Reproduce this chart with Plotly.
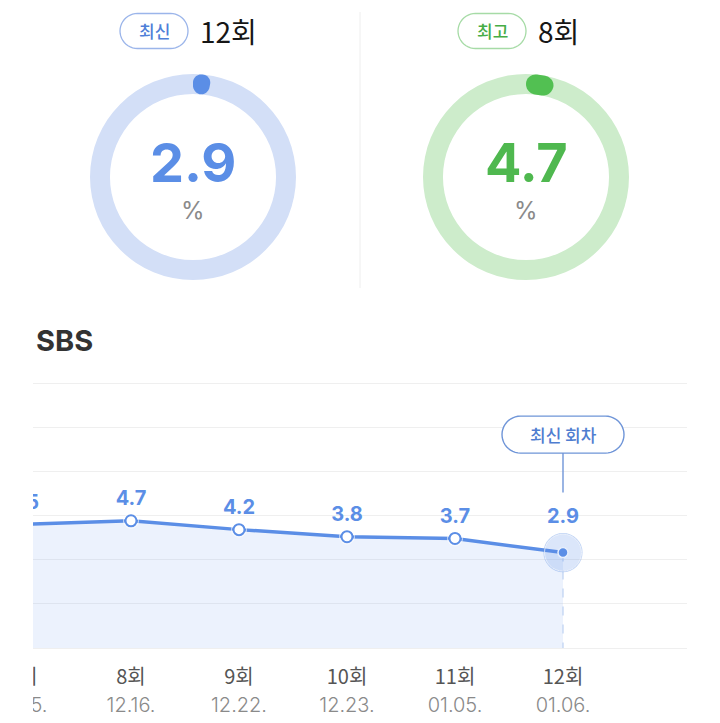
import numpy as np
import plotly.graph_objects as go

# ---------------- data ----------------
episodes = ["7회", "8회", "9회", "10회", "11회", "12회"]
dates = ["12.15.", "12.16.", "12.22.", "12.23.", "01.05.", "01.06."]
ratings = [4.5, 4.7, 4.2, 3.8, 3.7, 2.9]

latest_ep = "12회"
latest_val = 2.9
best_ep = "8회"
best_val = 4.7

W, H = 720, 723
BLUE = "#5b8ee6"
BLUE_RING = "#d3dff7"
GREEN = "#52c052"
GREEN_TXT = "#4fb84f"
GREEN_RING = "#cdeccb"
FONT = "Inter, 'Noto Sans CJK KR', sans-serif"
KFONT = "'Noto Sans CJK KR', Inter, sans-serif"


def px(x):
    return x / W


def py(y):
    return 1 - y / H


def poly_path(xs, ys, paper=True):
    if paper:
        pts = [f"{px(a):.5f},{py(b):.5f}" for a, b in zip(xs, ys)]
    else:
        pts = [f"{a:.2f},{b:.2f}" for a, b in zip(xs, ys)]
    return "M " + " L ".join(pts) + " Z"


def rounded_rect(w, h, r, n=12):
    """points of a rounded rectangle centred at 0 (local coords)"""
    r = min(r, w / 2, h / 2)
    xs, ys = [], []
    corners = [(w / 2 - r, h / 2 - r, 0), (-w / 2 + r, h / 2 - r, 90),
               (-w / 2 + r, -h / 2 + r, 180), (w / 2 - r, -h / 2 + r, 270)]
    for cx, cy, a0 in corners:
        for a in np.linspace(a0, a0 + 90, n):
            xs.append(cx + r * np.cos(np.radians(a)))
            ys.append(cy + r * np.sin(np.radians(a)))
    return np.array(xs), np.array(ys)


fig = go.Figure()
shapes = []
annotations = []

# ---------------- gauges ----------------
gauges = [
    dict(cx=193, cy=177, val=latest_val, ring=BLUE_RING, dot=BLUE, txt=BLUE,
         tag="최신", ep=latest_ep, pill_cx=154, tag_col="#4f7fd8", pill_border="#9bb5ea"),
    dict(cx=526, cy=177, val=best_val, ring=GREEN_RING, dot=GREEN, txt=GREEN_TXT,
         tag="최고", ep=best_ep, pill_cx=492, tag_col="#46ad46", pill_border="#a6dba6"),
]
R_OUT, R_IN = 103, 83
for g in gauges:
    fig.add_trace(go.Pie(
        values=[1], hole=R_IN / R_OUT, sort=False, textinfo="none", hoverinfo="skip",
        marker=dict(colors=[g["ring"]], line=dict(width=0)), showlegend=False,
        domain=dict(x=[px(g["cx"] - R_OUT), px(g["cx"] + R_OUT)],
                    y=[py(g["cy"] + R_OUT), py(g["cy"] - R_OUT)]),
    ))
    # progress blob (arc of value %)
    rmid = (R_OUT + R_IN) / 2
    thick = R_OUT - R_IN
    L = g["val"] / 100 * 2 * np.pi * rmid
    ls, lt = rounded_rect(L, thick, thick / 2)
    ls = ls + L / 2
    phi = ls / rmid
    rr = rmid + lt
    xs = g["cx"] + rr * np.sin(phi)
    ys = g["cy"] - rr * np.cos(phi)
    shapes.append(dict(type="path", xref="paper", yref="paper", path=poly_path(xs, ys),
                       fillcolor=g["dot"], line=dict(width=0), layer="above"))
    # centre value
    annotations.append(dict(x=px(g["cx"]), y=py(162), xref="paper", yref="paper",
                            text=f"{g['val']}", showarrow=False, xanchor="center", yanchor="middle",
                            font=dict(family=FONT, size=54, color=g["txt"], weight=700)))
    annotations.append(dict(x=px(g["cx"]), y=py(210), xref="paper", yref="paper",
                            text="%", showarrow=False, xanchor="center", yanchor="middle",
                            font=dict(family=FONT, size=24, color="#8a8a8a")))
    # header pill
    pxs, pys = rounded_rect(68, 35, 17.5)
    shapes.append(dict(type="path", xref="paper", yref="paper",
                       path=poly_path(g["pill_cx"] + pxs, 31 + pys),
                       fillcolor="white", line=dict(width=1.3, color=g["pill_border"])))
    annotations.append(dict(x=px(g["pill_cx"]), y=py(31), xref="paper", yref="paper",
                            text=g["tag"], showarrow=False, xanchor="center", yanchor="middle",
                            font=dict(family=KFONT, size=17, color=g["tag_col"], weight=500)))
    annotations.append(dict(x=px(g["pill_cx"] + 44), y=py(31), xref="paper", yref="paper",
                            text=g["ep"], showarrow=False, xanchor="left", yanchor="middle",
                            font=dict(family=KFONT, size=28, color="#161616")))

# divider
shapes.append(dict(type="line", xref="paper", yref="paper", x0=px(360), x1=px(360),
                   y0=py(12), y1=py(288), line=dict(color="#eeeeee", width=1)))

# title
annotations.append(dict(x=px(34), y=py(340), xref="paper", yref="paper", text="SBS",
                        showarrow=False, xanchor="left", yanchor="middle",
                        font=dict(family=FONT, size=29, color="#333333", weight=700)))

# ---------------- line chart ----------------
idx = list(range(len(episodes)))
Y_MIN, Y_MAX = -2.5, 12.5
PAD = 0.3
PXU = 265 / (Y_MAX - Y_MIN)  # pixels per unit
last = idx[-1]

# baseline for fill
fig.add_trace(go.Scatter(x=idx, y=[Y_MIN] * len(idx), mode="lines",
                         line=dict(width=0, color="rgba(0,0,0,0)"), hoverinfo="skip",
                         showlegend=False, xaxis="x", yaxis="y"))
fig.add_trace(go.Scatter(x=idx, y=ratings, mode="lines", fill="tonexty",
                         fillcolor="rgba(120,165,240,0.14)",
                         line=dict(color=BLUE, width=3.5), hoverinfo="skip",
                         showlegend=False, xaxis="x", yaxis="y", cliponaxis=True))
# dashed drop line at latest
fig.add_trace(go.Scatter(x=[last, last], y=[ratings[-1], Y_MIN], mode="lines",
                         line=dict(color="#bcd0f2", width=1.2, dash="dash"),
                         hoverinfo="skip", showlegend=False, xaxis="x", yaxis="y"))
# regular markers
fig.add_trace(go.Scatter(x=idx[:-1], y=ratings[:-1], mode="markers",
                         marker=dict(size=11, color="white", line=dict(color=BLUE, width=2)),
                         hoverinfo="skip", showlegend=False, xaxis="x", yaxis="y", cliponaxis=True))
# latest halo + dot
fig.add_trace(go.Scatter(x=[last], y=[ratings[-1]], mode="markers",
                         marker=dict(size=38, color="rgba(91,142,230,0.22)",
                                     line=dict(color="rgba(91,142,230,0.35)", width=1.2)),
                         hoverinfo="skip", showlegend=False, xaxis="x", yaxis="y"))
fig.add_trace(go.Scatter(x=[last], y=[ratings[-1]], mode="markers",
                         marker=dict(size=10, color=BLUE, line=dict(color="#e6eefc", width=1.5)),
                         hoverinfo="skip", showlegend=False, xaxis="x", yaxis="y"))
# value labels
sizes = [15] * (len(idx) - 1) + [37]
fig.add_trace(go.Scatter(x=idx, y=ratings, mode="markers+text",
                         text=[f"{v}" for v in ratings], textposition="top center",
                         marker=dict(size=sizes, color="rgba(0,0,0,0)"),
                         textfont=dict(family=FONT, size=20, color=BLUE, weight=700),
                         hoverinfo="skip", showlegend=False, xaxis="x", yaxis="y", cliponaxis=True))
# x labels (clipped) on a second y axis under the chart
fig.add_trace(go.Scatter(x=idx, y=[0.66] * len(idx), mode="text", text=episodes,
                         textposition="middle center",
                         textfont=dict(family=KFONT, size=20, color="#555555"),
                         hoverinfo="skip", showlegend=False, xaxis="x", yaxis="y2", cliponaxis=True))
fig.add_trace(go.Scatter(x=idx, y=[0.24] * len(idx), mode="text", text=dates,
                         textposition="middle center",
                         textfont=dict(family=FONT, size=20, color="#8a8a8a", weight=300),
                         hoverinfo="skip", showlegend=False, xaxis="x", yaxis="y2", cliponaxis=True))

# callout "최신 회차"
cxs, cys = rounded_rect(122, 37, 18.5)
shapes.append(dict(type="path", xref="x", yref="y", xsizemode="pixel", ysizemode="pixel",
                    xanchor=last, yanchor=ratings[-1],
                    path=poly_path(cxs, cys + 118, paper=False),
                    fillcolor="white", line=dict(color="#6f95d8", width=1.4)))
shapes.append(dict(type="line", xref="x", yref="y", xsizemode="pixel", ysizemode="pixel",
                   xanchor=last, yanchor=ratings[-1], x0=0, x1=0, y0=60, y1=99.5,
                   line=dict(color="#6f95d8", width=1.4)))
annotations.append(dict(x=last, y=ratings[-1], xref="x", yref="y", yshift=118,
                        text="최신 회차", showarrow=False, xanchor="center", yanchor="middle",
                        font=dict(family=KFONT, size=17, color="#4f7dd0", weight=500)))

x_lo = (33 - 23) / 108
x_hi = (687 - 23) / 108

fig.update_layout(
    width=W, height=H, margin=dict(l=0, r=0, t=0, b=0),
    paper_bgcolor="white", plot_bgcolor="rgba(0,0,0,0)",
    showlegend=False,
    xaxis=dict(domain=[px(33), px(687)], range=[x_lo, x_hi], showgrid=False,
               showticklabels=False, zeroline=False, showline=False, fixedrange=True),
    yaxis=dict(domain=[py(648 + PAD * PXU), py(383 - PAD * PXU)],
               range=[Y_MIN - PAD, Y_MAX + PAD],
               tick0=Y_MIN, dtick=2.5, showgrid=True,
               gridcolor="#efefef", gridwidth=1.2, showticklabels=False, zeroline=False,
               showline=False, fixedrange=True),
    yaxis2=dict(domain=[0, py(656)], range=[0, 1], anchor="x", showgrid=False,
                showticklabels=False, zeroline=False, showline=False, fixedrange=True),
    shapes=shapes, annotations=annotations,
)

fig.write_html("out.html")
